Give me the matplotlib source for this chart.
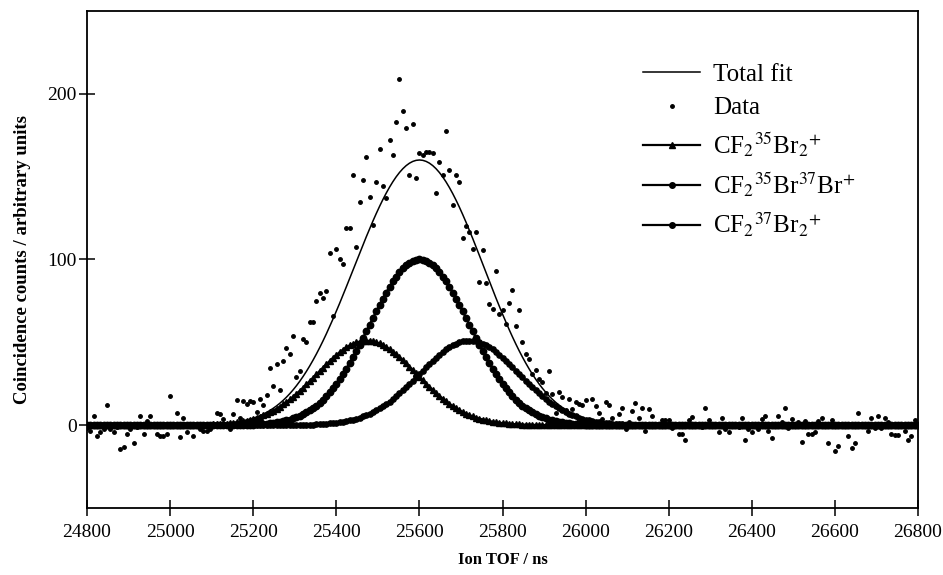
import matplotlib
matplotlib.use('Agg')
import matplotlib.pyplot as plt
import numpy as np

plt.rcParams['font.family'] = 'Liberation Serif'
plt.rcParams['mathtext.fontset'] = 'stix'

# time of flight grid (ns), one data point every 8 ns
tof = np.arange(24800, 26801, 8)

# coincidence counts
counts = [
    -2, -3.6, 5.6, -6.4, -4.4, -2.4, 12.4, -2.4, -4.4, -1,
    -14.4, -13.4, -5.6, -2.4, -11, -1, 5.6, -5.6, 2.4, 5.6,
    1, -5.6, -6.4, -6.4, -5.6, 17.6, 1, 7.6, -7.4, 4.6,
    -4.4, 1, -6.4, 0, -2.4, -3.6, -3.6, -2.4, 1, 7.6,
    6.6, 4, 1, -2.4, 6.6, 15, 4.6, 14.4, 13, 14.4,
    14, 8, 16, 12, 18, 34.7, 23.6, 37, 21, 39,
    46.7, 42.7, 53.8, 29, 32.7, 52, 50, 62, 62, 75,
    80, 77, 81, 103.8, 65.6, 106.4, 100, 97, 119, 119,
    150.8, 107.5, 135, 148, 162, 138, 121, 146.6, 166.7, 144.6,
    137, 172.3, 163, 183, 209, 189.8, 179.4, 151, 182, 149,
    164, 163, 165, 165, 164, 140, 158.6, 151, 177.7, 154,
    133, 151, 147, 113, 120.5, 116.5, 106.4, 116.5, 86.3, 106,
    86, 73.3, 70, 93, 67, 69.7, 61, 74, 81.7, 60,
    69.7, 50.2, 42.7, 40, 30.7, 33.5, 28, 26, 19.5, 32.7,
    18.7, 7.5, 20, 17, 9.4, 16, 10, 14, 13, 12,
    15, 3, 16, 11.6, 7.6, 4, 13.7, 12.4, 4.6, 1,
    6.6, 10.4, -2.4, 2, 8.6, 13.5, 4.6, 10.4, -3.4, 9.6,
    5.6, 1, 0, 3.4, 3.4, 3.4, -2, 1, -5.4, -5.4,
    -9, 3, 5, 0, 1, -1, 10.4, 3, 0, 1,
    -4.4, 4.6, -2.4, -4.4, 1, 0, -1, 4.6, -9, -2.4,
    -4.4, 1, -2.4, 4, 5.6, -3.4, -8, 0, 5.6, 2,
    10.4, -2, 4, 0, 2, -10, 2.4, -5.4, -5.4, -4.4,
    2.4, 4.6, 0, -11, 3, -15.5, -12.7, 1, 0, -6.4,
    -13.7, -11, 7.6, 0, 1, -3.4, 4.6, -2, 5.6, -2,
    4.6, 2, -5.4, -6, -6, 0, -3.4, -9, -6.4, 3.4,
    1,
]

# gaussian fit components (height, centre, width)
fit_labels = [r'CF$_2$$^{35}$Br$_2$$^{+}$',
              r'CF$_2$$^{35}$Br$^{37}$Br$^{+}$',
              r'CF$_2$$^{37}$Br$_2$$^{+}$']
fit_height = [51, 100, 51]
fit_centre = [25473, 25600, 25720]
fit_sigma = [120, 120, 120]
fit_marker = ['^', 'o', 'o']
fit_msize = [4.0, 4.6, 3.8]

comps = []
for h, c, s in zip(fit_height, fit_centre, fit_sigma):
    comps.append(h * np.exp(-(tof - c) ** 2 / (2.0 * s ** 2)))
total = np.sum(comps, axis=0)

fig = plt.figure(figsize=(9.43, 5.75), dpi=100)
ax = fig.add_axes([0.0923, 0.1165, 0.8812, 0.8644])

ax.plot(tof, total, '-', color='black', lw=1.1, label='Total fit')
ax.plot(tof, counts, 'o', color='black', ms=2.5, label='Data')
for comp, lab, mk, ms in zip(comps, fit_labels, fit_marker, fit_msize):
    ax.plot(tof, comp, '-', color='black', lw=1.6, marker=mk, ms=ms,
            label=lab)

ax.set_xlim(24800, 26800)
ax.set_ylim(-50, 250)
ax.set_xticks(np.arange(24800, 26801, 200))
ax.set_yticks([0, 100, 200])
ax.tick_params(direction='inout', length=11, width=1.1, labelsize=14,
               colors='black')
ax.tick_params(axis='x', pad=6)
ax.tick_params(axis='y', pad=2)
for sp in ax.spines.values():
    sp.set_linewidth(1.3)

ax.set_xlabel('Ion TOF / ns', fontsize=12, fontweight='bold', labelpad=8)
ax.set_ylabel('Coincidence counts / arbitrary units', fontsize=13.5,
              fontweight='bold', labelpad=12)

# legend handles only carry a single small marker
leg = ax.legend(loc='upper left', bbox_to_anchor=(0.654, 0.92),
                frameon=False, fontsize=18, handlelength=2.3,
                handletextpad=0.5, labelspacing=0.45, borderpad=0,
                numpoints=1)
for h in leg.legend_handles[2:]:
    h.set_markersize(4)

fig.savefig('out.png', dpi=100)
